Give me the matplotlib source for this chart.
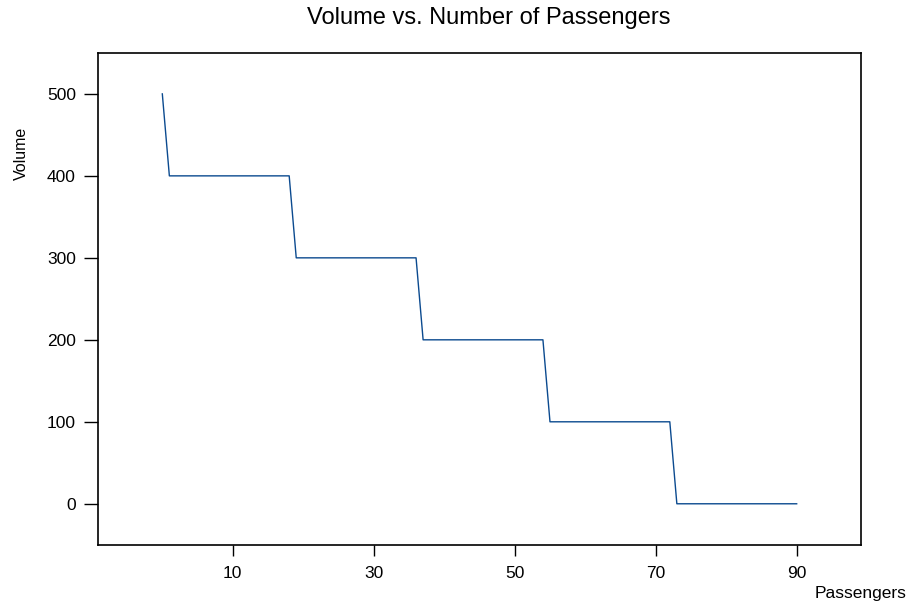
import matplotlib
matplotlib.use("Agg")
import matplotlib.pyplot as plt

# step changes in volume as passengers increase
passengers = [0, 1, 18, 19, 36, 37, 54, 55, 72, 73, 90]
volume = [500, 400, 400, 300, 300, 200, 200, 100, 100, 0, 0]
x_ticks = [10, 30, 50, 70, 90]
y_ticks = [0, 100, 200, 300, 400, 500]

plt.rcParams['font.family'] = ['Liberation Sans', 'DejaVu Sans']

fig = plt.figure(figsize=(9.09, 6.08), dpi=100)
ax = fig.add_axes([0.108, 0.104, 0.839, 0.809])

ax.plot(passengers, volume, color='#0b4a8f', linewidth=1.0)

ax.set_xlim(-9.1, 99.1)
ax.set_ylim(-50, 550)
ax.set_xticks(x_ticks)
ax.set_yticks(y_ticks)
ax.tick_params(axis='x', length=8, width=1, pad=7, labelsize=12.5)
ax.tick_params(axis='y', length=10, width=1, pad=6, labelsize=12.5)
for s in ax.spines.values():
    s.set_linewidth(1.2)

fig.text(0.538, 0.97, 'Volume vs. Number of Passengers', ha='center', va='center', fontsize=17)
fig.text(0.024, 0.748, 'Volume', rotation=90, ha='center', va='center', fontsize=11.5)
fig.text(0.997, 0.024, 'Passengers', ha='right', va='center', fontsize=12.5)

fig.savefig('out.png', dpi=100)
